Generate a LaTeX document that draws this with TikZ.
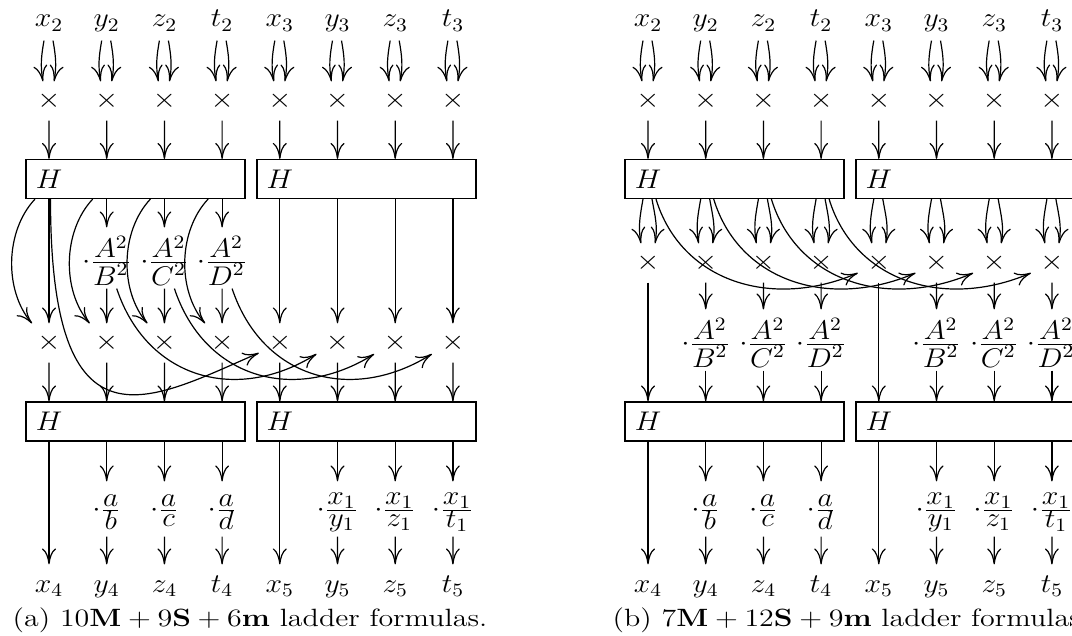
\RequirePackage{fix-cm}
\documentclass[tikz,border=0pt]{standalone}
\usetikzlibrary{arrows.meta,calc}
\newcommand\dfr[3]{\frac{\textstyle #2\rule[-#1]{0pt}{#1}}{\textstyle #3\rule{0pt}{\dimexpr 6.9pt+#1\relax}}}
\begin{document}
\begin{tikzpicture}[x=0.5pt,y=-0.5pt,line width=0.6pt,
  >={Computer Modern Rightarrow[length=8pt,width=7pt]},
  txt/.style={inner sep=0pt,xscale=1.1,font=\fontsize{13.5}{16}\selectfont},
  lab/.style={txt,minimum height=20pt,text height=10pt,text depth=3pt},
  mul/.style={txt,minimum height=19pt},
  frA/.style={txt,text height=20.4pt,text depth=9.6pt},
  frB/.style={txt,text height=17.4pt,text depth=9.6pt},
  hbox/.style={draw,minimum width=109.5pt,minimum height=19.5pt,inner sep=0pt},
  captext/.style={inner sep=0pt,xscale=1.2,font=\fontsize{12.5}{15}\selectfont,anchor=base west}]
\clip (0,0) rectangle (1072,636);

\foreach \p/\o/\my in {a/0/343,b/599/263}{
  % boxes
  \node[hbox] (\p H1) at (\o+135.5,179) {};
  \node[hbox] (\p G1) at (\o+366.5,179) {};
  \node[hbox] (\p H2) at (\o+135.5,421.5) {};
  \node[hbox] (\p G2) at (\o+366.5,421.5) {};
  \node[txt] (\p H1l) at (\o+49,179) {$H$};
  \node[txt] (\p G1l) at (\o+279.8,179) {$H$};
  \node[txt] (\p H2l) at (\o+49,421.5) {$H$};
  \node[txt] (\p G2l) at (\o+279.8,421.5) {$H$};
  % columns
  \foreach \i/\t/\bt in {0/x_2/x_4,1/y_2/y_4,2/z_2/z_4,3/t_2/t_4,4/x_3/x_5,5/y_3/y_5,6/z_3/z_5,7/t_3/t_5}{
    \pgfmathsetmacro\X{\o+49+57.7*\i}
    \node[lab] (\p top\i) at (\X,20) {$\t$};
    \node[mul] (\p mA\i) at (\X,101) {$\times$};
    \node[mul] (\p mB\i) at (\X,\my) {$\times$};
    \node[lab] (\p bot\i) at (\X,585) {$\bt$};
  }
  \foreach \i/\num/\den in {1/a/b,2/a/c,3/a/d,5/x_1/y_1,6/x_1/z_1,7/x_1/t_1}{
    \pgfmathsetmacro\X{\o+49+57.7*\i}
    \node[frB] (\p g\i) at (\X,509) {$\cdot\dfr{0.75pt}{\num}{\den}$};
  }
  % top connectors
  \foreach \i in {0,...,7}{
    \draw[->] ($(\p top\i.south)+(-5,0)$) to[out=260,in=100] ($(\p mA\i.north)+(-6,0)$);
    \draw[->] ($(\p top\i.south)+(4,0)$) to[out=280,in=80] ($(\p mA\i.north)+(5,0)$);
    \draw[->] (\p mA\i) -- (\p mA\i |- \p H1.north);
  }
  % bottom connectors
  \foreach \i in {0,4}{
    \draw[->] (\p bot\i |- \p H2.south) -- (\p bot\i);
  }
  \foreach \i in {1,2,3,5,6,7}{
    \draw[->] (\p bot\i |- \p H2.south) -- (\p bot\i |- \p g\i.north);
    \draw[->] (\p bot\i |- \p g\i.south) -- (\p bot\i);
  }
}

% ---------- (a) middle part ----------
\foreach \i/\L in {1/B,2/C,3/D}{
  \pgfmathsetmacro\X{49+57.7*\i}
  \node[frA] (af\i) at (\X,258) {$\cdot\dfr{1.5pt}{A^2}{\L^2}$};
}
\foreach \i in {0,...,3}{
  \draw[->] ($(amB\i |- aH1.south)+(-14,0)$) .. controls +(-30,32) and +(-28,-33) .. ($(amB\i.north)+(-17,0)$);
}
\draw[->] (amB0 |- aH1.south) -- (amB0);
\draw[->] ($(amB0 |- aH1.south)+(1.5,0)$) .. controls +(0,262) and +(-109,47) .. ($(amB4.center)+(-21,10)$);
\foreach \i/\j in {1/5,2/6,3/7}{
  \draw[->] (amB\i |- aH1.south) -- (amB\i |- af\i.north);
  \draw[->] (amB\i |- af\i.south) -- (amB\i);
  \draw[->] ($(af\i.south)+(10,0)$) .. controls +(30,90) and +(-80,50) .. ($(amB\j.center)+(-21,11)$);
}
\foreach \i in {4,...,7}{
  \draw[->] (amB\i |- aG1.south) -- (amB\i);
}
\foreach \i in {0,...,7}{
  \draw[->] (amB\i) -- (amB\i |- aH2.north);
}

% ---------- (b) middle part ----------
\foreach \i/\L in {1/B,2/C,3/D,5/B,6/C,7/D}{
  \pgfmathsetmacro\X{599+49+57.7*\i}
  \node[frA] (bf\i) at (\X,340) {$\cdot\dfr{1.5pt}{A^2}{\L^2}$};
}
\foreach \i in {0,...,7}{
  \draw[->] ($(bmB\i |- bH1.south)+(-5,0)$) to[out=260,in=100] ($(bmB\i.north)+(-7,0)$);
  \draw[->] ($(bmB\i |- bH1.south)+(4,0)$) to[out=280,in=80] ($(bmB\i.north)+(7,0)$);
}
\foreach \i/\j in {0/4,1/5,2/6,3/7}{
  \draw[->] ($(bmB\i |- bH1.south)+(8,0)$) .. controls +(25,82) and +(-87,37) .. ($(bmB\j.center)+(-21,10)$);
}
\foreach \i in {0,4}{
  \draw[->] (bmB\i) -- (bmB\i |- bH2.north);
}
\foreach \i in {1,2,3,5,6,7}{
  \draw[->] (bmB\i) -- (bmB\i |- bf\i.north);
  \draw[->] (bmB\i |- bf\i.south) -- (bmB\i |- bH2.north);
}

% captions
\node[captext] (capa) at (12,626) {(a) $10\mathbf{M}+9\mathbf{S}+6\mathbf{m}$ ladder formulas.};
\node[captext] (capb) at (612,626) {(b) $7\mathbf{M}+12\mathbf{S}+9\mathbf{m}$ ladder formulas.};
\end{tikzpicture}
\end{document}
